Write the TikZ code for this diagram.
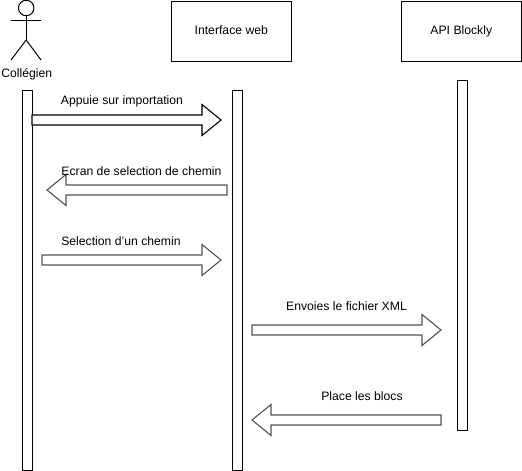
\documentclass[tikz,border=0pt]{standalone}
\usepackage{fontspec}
\setmainfont{Liberation Sans}
\usetikzlibrary{calc}
\tikzset{
  line/.style={draw=black,line width=1pt},
  box/.style={line,fill=white,rectangle,inner sep=0pt,anchor=north west,font=\fontsize{12.2}{14}\selectfont,text height=9pt,text depth=3pt},
  lbl/.style={inner sep=0pt,font=\fontsize{12.2}{14}\selectfont},
  block/.style={draw=#1,fill=white,line width=1.1pt,miter limit=10},
  block/.default=black
}
\newcommand{\blockarrow}[3][black!68]{%
  \draw[block=#1] let \p1=(#2),\p2=(#3),\n1={(\x2>\x1)?1:-1} in
    (\x1,\y1+5) -- (\x2-\n1*19,\y1+5) -- (\x2-\n1*19,\y1+15.5) -- (\x2,\y1)
    -- (\x2-\n1*19,\y1-15.5) -- (\x2-\n1*19,\y1-5) -- (\x1,\y1-5) -- cycle;}
\begin{document}
\begin{tikzpicture}[x=1pt,y=-1pt]
\useasboundingbox (0,0) rectangle (522,471);
% actor
\node[line,circle,minimum size=15.5pt,inner sep=0pt] (head) at (26.2,8) {};
\coordinate (hip) at (26.2,40);
\coordinate (armL) at (11,20.5);
\coordinate (armR) at (41,20.5);
\coordinate (legL) at (11,60);
\coordinate (legR) at (41,60);
\draw[line] (head.south) -- (hip);
\draw[line] (armL) -- (armR);
\draw[line] (legL) -- (hip) -- (legR);
\node[lbl] (actor) at (26.7,74.5) {Collégien};
% header boxes
\node[box,minimum width=120pt,minimum height=60pt] (web) at (170.8,0.5) {Interface web};
\node[box,minimum width=120pt,minimum height=60pt] (api) at (400.8,0.5) {API Blockly};
% lifelines
\node[box,text height=0pt,text depth=0pt,minimum width=10pt,minimum height=379.5pt] (barA) at (21.5,90.2) {};
\node[box,text height=0pt,text depth=0pt,minimum width=10pt,minimum height=379.5pt] (barB) at (231.5,90.2) {};
\node[box,text height=0pt,text depth=0pt,minimum width=10pt,minimum height=349.5pt] (barC) at (456.5,80.2) {};
% arrow ends
\coordinate (a1) at (32,120);   \coordinate (b1) at (221,120);
\coordinate (a2) at (227,190);  \coordinate (b2) at (47,190);
\coordinate (a3) at (42,260);   \coordinate (b3) at (221,260);
\coordinate (a4) at (252,330);  \coordinate (b4) at (441,330);
\coordinate (a5) at (441,420);  \coordinate (b5) at (252,420);
\blockarrow[black]{a1}{b1}
\blockarrow{a2}{b2}
\blockarrow{a3}{b3}
\blockarrow{a4}{b4}
\blockarrow{a5}{b5}
\node[lbl] (t1) at (122,101) {Appuie sur importation};
\node[lbl] (t2) at (141.5,171) {Ecran de selection de chemin};
\node[lbl] (t3) at (121,241) {Selection d'un chemin};
\node[lbl] (t4) at (346.5,306) {Envoies le fichier XML};
\node[lbl] (t5) at (362,396) {Place les blocs};
\end{tikzpicture}
\end{document}
